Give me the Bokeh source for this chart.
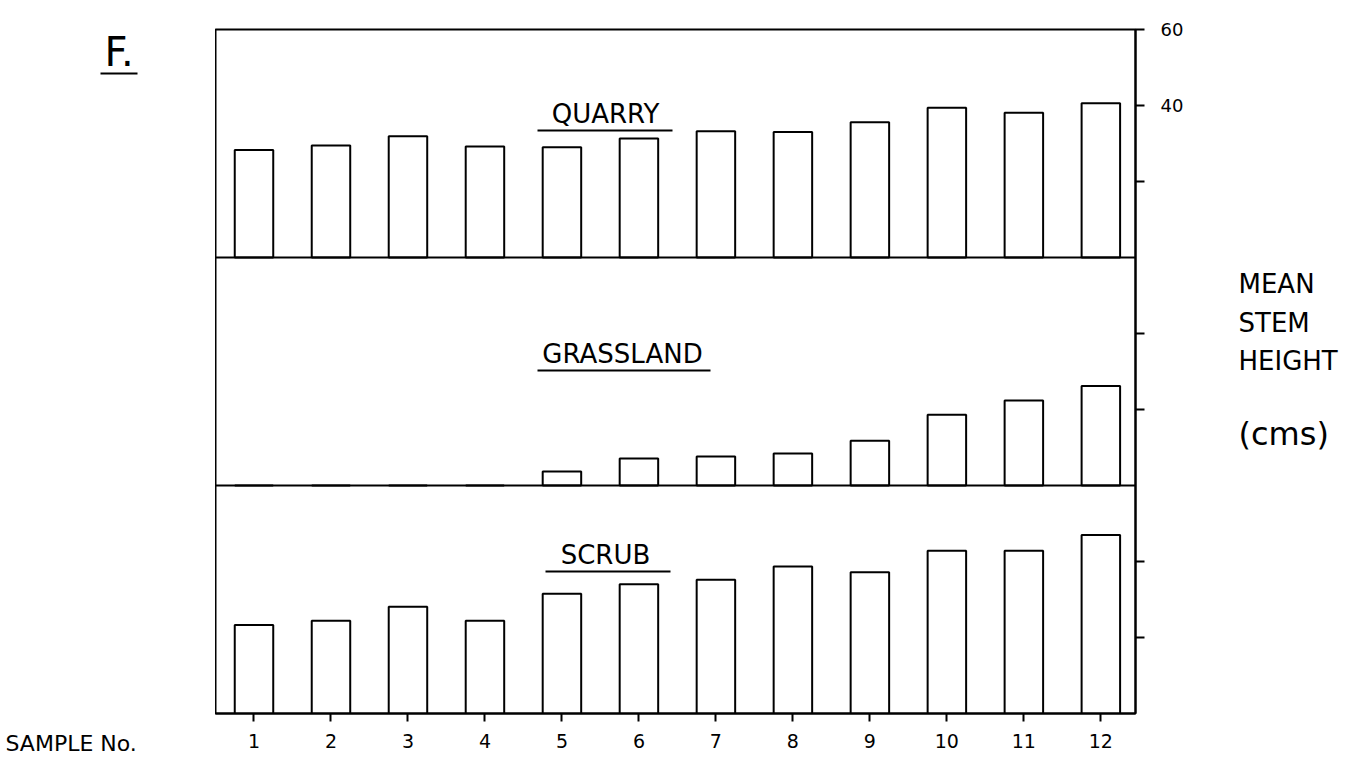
from bokeh.plotting import figure
from bokeh.layouts import row
from bokeh.models import Label, FixedTicker, Span, Arrow, Range1d
from bokeh.core.properties import value
from bokeh.embed import file_html
from bokeh.resources import INLINE

# ---- data ----
samples = [1, 2, 3, 4, 5, 6, 7, 8, 9, 10, 11, 12]
sample_labels = ["1", "2", "3", "4", "5", "6", "7", "8", "9", "10", "11", "12"]
quarry = [28.3, 29.5, 31.9, 29.2, 29.0, 31.3, 33.2, 33.0, 35.6, 39.4, 38.1, 40.6]
grassland = [0, 0, 0, 0, 3.7, 7.1, 7.6, 8.4, 11.8, 18.6, 22.4, 26.2]
scrub = [23.3, 24.4, 28.1, 24.4, 31.5, 34.0, 35.2, 38.7, 37.2, 42.8, 42.8, 47.0]
panel_names = ["QUARRY", "GRASSLAND", "SCRUB"]
panel_values = [quarry, grassland, scrub]
panel_max = 60
axis_tick_values = [20, 40]
top_tick_labels = {"40": 40, "60": 60}
y_title_lines = ["MEAN", "STEM", "HEIGHT", "(cms)"]
x_title = "SAMPLE No."
fig_label = "F."

FONT = "DejaVu Sans"
LW = 2
H = 756

n_panels = len(panel_names)
total = panel_max * n_panels

p = figure(
    width=980, height=H,
    x_range=(0.5, 12.45), y_range=(0, total),
    y_axis_location="right",
    min_border_left=0, min_border_top=29, min_border_right=60, min_border_bottom=H - 29 - 684,
    output_backend="svg", toolbar_location=None,
    background_fill_color="white", border_fill_color="white",
)
p.frame_align = False
p.grid.visible = False
p.outline_line_color = "black"
p.outline_line_width = LW

# bars, panels stacked: first panel on top
for i, vals in enumerate(panel_values):
    offset = panel_max * (n_panels - 1 - i)
    p.vbar(x=samples, width=0.5, bottom=offset, top=[offset + v for v in vals],
           fill_color="white", line_color="black", line_width=LW)
    if offset > 0:
        p.add_layout(Span(location=offset, dimension="width", line_color="black", line_width=LW))

# right axis ticks
ticks = []
overrides = {}
for i in range(n_panels):
    offset = panel_max * (n_panels - 1 - i)
    for t in axis_tick_values:
        ticks.append(offset + t)
        overrides[offset + t] = ""
top_off = panel_max * (n_panels - 1)
ticks.append(top_off + panel_max)
overrides[top_off + panel_max] = ""
for lab, v in top_tick_labels.items():
    overrides[top_off + v] = lab
ay = p.yaxis[0]
ay.ticker = FixedTicker(ticks=ticks)
ay.major_label_overrides = overrides
ay.minor_tick_line_color = None
ay.major_tick_in = 0
ay.major_tick_out = 9
ay.major_tick_line_width = LW
ay.axis_line_width = LW
ay.major_label_standoff = 16
ay.major_label_text_font = FONT
ay.major_label_text_font_size = "18px"
ay.major_label_text_color = "black"

ax = p.xaxis[0]
ax.ticker = FixedTicker(ticks=samples)
ax.major_label_overrides = {s: l for s, l in zip(samples, sample_labels)}
ax.minor_tick_line_color = None
ax.major_tick_in = 0
ax.major_tick_out = 8
ax.major_tick_line_width = LW
ax.axis_line_width = LW
ax.major_label_standoff = 12
ax.major_label_text_font = FONT
ax.major_label_text_font_size = "19px"
ax.major_label_text_color = "black"

# pixel helpers (page coords -> data)
def dx(px):
    return 0.5 + (px - 215) * 11.95 / 920
def dy(py):
    return (713 - py) * total / 684

# panel titles with underline
title_pos = [(605, 113, 537, 672, 130), (622, 353, 537, 710, 370), (605, 554, 545, 670, 571)]
for name, (cx, cy, ux0, ux1, uy) in zip(panel_names, title_pos):
    p.add_layout(Label(x=dx(cx), y=dy(cy), text=name, text_align="center", text_baseline="middle",
                       text_font=FONT, text_font_size="26px", text_color="black"))
    p.add_layout(Arrow(end=None, x_start=dx(ux0), y_start=dy(uy), x_end=dx(ux1), y_end=dy(uy),
                       line_color="black", line_width=LW))

# ---- side figures (page-pixel coordinates) ----
def side_fig(x0, x1):
    f = figure(width=x1 - x0, height=H, x_range=Range1d(x0, x1), y_range=Range1d(H, 0),
               x_axis_location=None, y_axis_location=None,
               min_border=0, min_border_left=0, min_border_right=0, min_border_top=0, min_border_bottom=0,
               output_backend="svg", toolbar_location=None)
    f.frame_align = False
    f.grid.visible = False
    f.outline_line_color = None
    return f

left = side_fig(0, 215)
left.text(x=[104], y=[51], text=[fig_label], text_font=value(FONT), text_font_size="40px",
          text_align="left", text_baseline="middle", text_color="black")
left.segment(x0=[100], y0=[73], x1=[137], y1=[73], line_color="black", line_width=LW)
left.text(x=[5], y=[743], text=[x_title], text_font=value(FONT), text_font_size="22px",
          text_align="left", text_baseline="middle", text_color="black")

right = side_fig(1195, 1360)
ys = [283, 322, 360, 433]
sizes = ["26px", "26px", "26px", "32px"]
for txt, yy, fs in zip(y_title_lines, ys, sizes):
    right.text(x=[1238], y=[yy], text=[txt], text_font=value(FONT), text_font_size=fs,
               text_align="left", text_baseline="middle", text_color="black")

layout = row(left, p, right, spacing=0)
open("out.html", "w").write(file_html(layout, INLINE))
